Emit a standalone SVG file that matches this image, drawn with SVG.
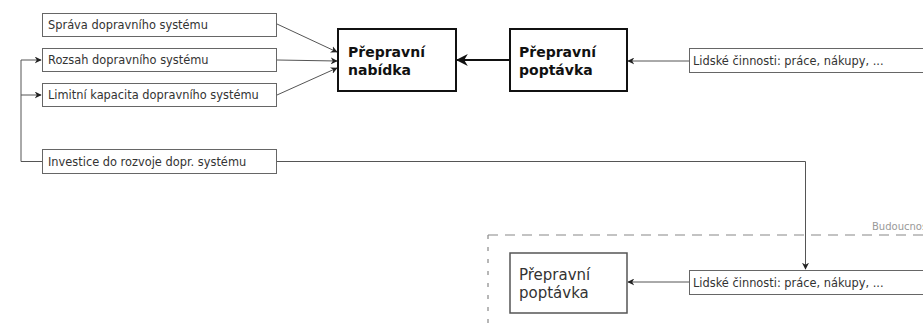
<svg xmlns="http://www.w3.org/2000/svg" width="923" height="329" viewBox="0 0 923 329">
<style>
.sb{fill:#fff;stroke:#666;stroke-width:1}
.st{font-family:"DejaVu Sans",sans-serif;font-size:11.4px;fill:#333}
.bb{fill:#fff;stroke:#111;stroke-width:2}
.bt{font-family:"DejaVu Sans",sans-serif;font-size:14px;font-weight:bold;fill:#111}
.lb{fill:#fff;stroke:#555;stroke-width:1.5}
.lt{font-family:"DejaVu Sans",sans-serif;font-size:15px;fill:#333}
.c{fill:none;stroke:#555;stroke-width:1}
.ct{fill:none;stroke:#111;stroke-width:2}
</style>
<defs>
<marker id="a" viewBox="0 0 10 10" refX="9" refY="5" markerWidth="7" markerHeight="7" markerUnits="userSpaceOnUse" orient="auto">
<path d="M0,0 L10,5 L0,10 L3,5 Z" fill="#222"/>
</marker>
<marker id="ab" viewBox="0 0 10 10" refX="9" refY="5" markerWidth="6" markerHeight="6" orient="auto">
<path d="M0,0 L10,5 L0,10 L3,5 Z" fill="#111"/>
</marker>
</defs>
<g id="future">
<line x1="488" y1="235" x2="923" y2="235" stroke="#888" stroke-width="1.2" stroke-dasharray="10 7"/>
<line x1="488" y1="235" x2="488" y2="329" stroke="#888" stroke-width="1.2" stroke-dasharray="4 8"/>
<text x="872" y="230" font-family="DejaVu Sans,sans-serif" font-size="10" fill="#999">Budoucnost</text>
</g>
<g id="connectors">
<path class="c" d="M277,24 L337,52" marker-end="url(#a)"/>
<path class="c" d="M277,60 L337,61" marker-end="url(#a)"/>
<path class="c" d="M277,95 L337,68" marker-end="url(#a)"/>
<path class="ct" d="M510,60 L457,60" marker-end="url(#ab)"/>
<path class="c" d="M689,61 L628,61" marker-end="url(#a)"/>
<path class="c" d="M42,161.5 L21,161.5 L21,60 L41,60" marker-end="url(#a)"/>
<path class="c" d="M21,95 L41,95" marker-end="url(#a)"/>
<path class="c" d="M277,161.5 L805.5,161.5 L805.5,269" marker-end="url(#a)"/>
<path class="c" d="M689,282 L628,282" marker-end="url(#a)"/>
</g>
<g id="n1"><rect class="sb" x="42.5" y="13.5" width="234" height="23"/><text class="st" x="48" y="29">Správa dopravního systému</text></g>
<g id="n2"><rect class="sb" x="42.5" y="48.5" width="234" height="23"/><text class="st" x="48" y="64">Rozsah dopravního systému</text></g>
<g id="n3"><rect class="sb" x="42.5" y="83.5" width="234" height="23"/><text class="st" x="48" y="99">Limitní kapacita dopravního systému</text></g>
<g id="n4"><rect class="sb" x="42.5" y="149.5" width="234" height="24"/><text class="st" x="48" y="165.5">Investice do rozvoje dopr. systému</text></g>
<g id="n5"><rect class="bb" x="338" y="29" width="118" height="62"/><text class="bt" x="348" y="57">Přepravní</text><text class="bt" x="348" y="75">nabídka</text></g>
<g id="n6"><rect class="bb" x="510" y="29" width="117" height="62"/><text class="bt" x="519" y="57">Přepravní</text><text class="bt" x="519" y="75">poptávka</text></g>
<g id="n7"><rect class="sb" x="689.5" y="48.5" width="240" height="24"/><text class="st" x="693" y="65">Lidské činnosti: práce, nákupy, ...</text></g>
<g id="n8"><rect class="lb" x="510" y="253" width="117" height="60"/><text class="lt" x="519" y="280">Přepravní</text><text class="lt" x="519" y="298">poptávka</text></g>
<g id="n9"><rect class="sb" x="689.5" y="270.5" width="240" height="24"/><text class="st" x="693" y="286.5">Lidské činnosti: práce, nákupy, ...</text></g>
</svg>
